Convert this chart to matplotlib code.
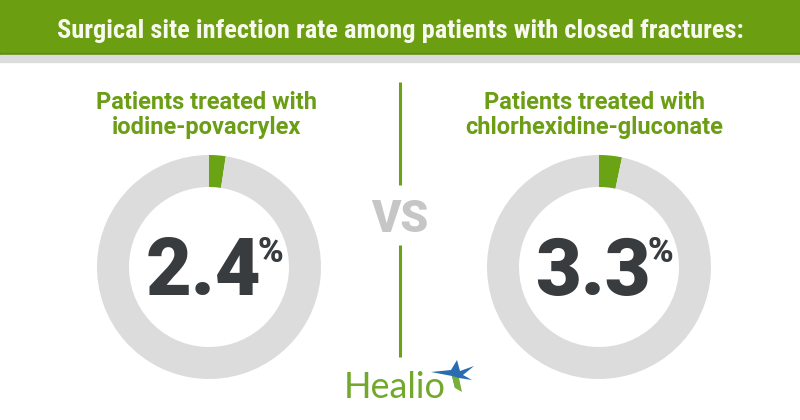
import matplotlib.pyplot as plt
from matplotlib import font_manager
from matplotlib.patches import Rectangle, Polygon

title = "Surgical site infection rate among patients with closed fractures:"
groups = ["Patients treated with\niodine-povacrylex", "Patients treated with\nchlorhexidine-gluconate"]
rates = [2.4, 3.3]
rate_labels = ["2.4", "3.3"]

green = "#6b9e14"
ring_green = "#6aa414"
ring_grey = "#dcdcdc"
dark = "#383c3e"

installed = {f.name for f in font_manager.fontManager.ttflist}
narrow = "Roboto Condensed" if "Roboto Condensed" in installed else "Liberation Sans Narrow"

H = 420


def Y(y):
    # pixel row from the top -> data y
    return H - y


fig = plt.figure(figsize=(8, 4.2), dpi=100)
ax = fig.add_axes([0, 0, 1, 1])
ax.set_axis_off()

# header band
ax.add_patch(Rectangle((0, Y(53)), 800, 53, color="#6c9e12", zorder=1))
ax.add_patch(Rectangle((0, Y(55)), 800, 2, color="#5f8e0e", zorder=1))
ax.add_patch(Rectangle((0, Y(62)), 800, 7, color="#dcdcdc", zorder=1))
ax.text(400, Y(38), title, color="#f7f9ee", fontsize=19, fontweight="bold",
        family=narrow, ha="center", va="baseline", zorder=3)

centers = [209, 599]
num_texts = []
for i, (cx, label, rate, name) in enumerate(zip(centers, rate_labels, rates, groups)):
    ax.pie([rate, 100 - rate], colors=[ring_green, ring_grey], center=(cx, Y(267)),
           radius=112, startangle=90, counterclock=False,
           wedgeprops=dict(width=32, linewidth=0), frame=True)
    head_x = [206, 594][i]
    ax.text(head_x, Y(134), name, color=green, fontsize=17, fontweight="bold",
            family="Roboto", ha="center", va="baseline", linespacing=1.1)
    t = ax.text(cx - 6, Y(295), label, color=dark, fontsize=57, fontweight="black",
                family="Roboto", ha="center", va="baseline")
    num_texts.append(t)

ax.set_xlim(0, 800)
ax.set_ylim(0, H)
ax.set_aspect("auto")

fig.canvas.draw()
renderer = fig.canvas.get_renderer()
inv = ax.transData.inverted()
for t in num_texts:
    bb = t.get_window_extent(renderer)
    x1 = inv.transform((bb.x1, bb.y0))[0]
    ax.text(x1 - 3, Y(262), "%", color=dark, fontsize=25, fontweight="black",
            family="Roboto", ha="left", va="baseline")

# divider with VS
ax.plot([400, 400], [Y(82), Y(185)], color=ring_green, lw=2.2, solid_capstyle="butt")
ax.plot([400, 400], [Y(245), Y(357)], color=ring_green, lw=2.2, solid_capstyle="butt")
ax.text(400, Y(232), "VS", color="#c6c6c6", fontsize=32, fontweight="black",
        family="Roboto", ha="center", va="baseline")

# Healio logo
ax.text(344, Y(398), "Healio", color="#72a82c", fontsize=26, family="Lato",
        ha="left", va="baseline")
star_blue = [(457, 360), (460, 371), (474, 366), (463, 375), (472, 380), (459, 378),
             (455, 388), (452, 376), (431, 372), (451, 370)]
ax.add_patch(Polygon([(x, Y(y)) for x, y in star_blue], closed=True,
                     color="#2b6cb0", lw=0))
star_green = [(452, 376), (459, 378), (462, 392), (455, 388)]
ax.add_patch(Polygon([(x, Y(y)) for x, y in star_green], closed=True,
                     color="#7ab03a", lw=0))

fig.savefig("out.png", dpi=100)
